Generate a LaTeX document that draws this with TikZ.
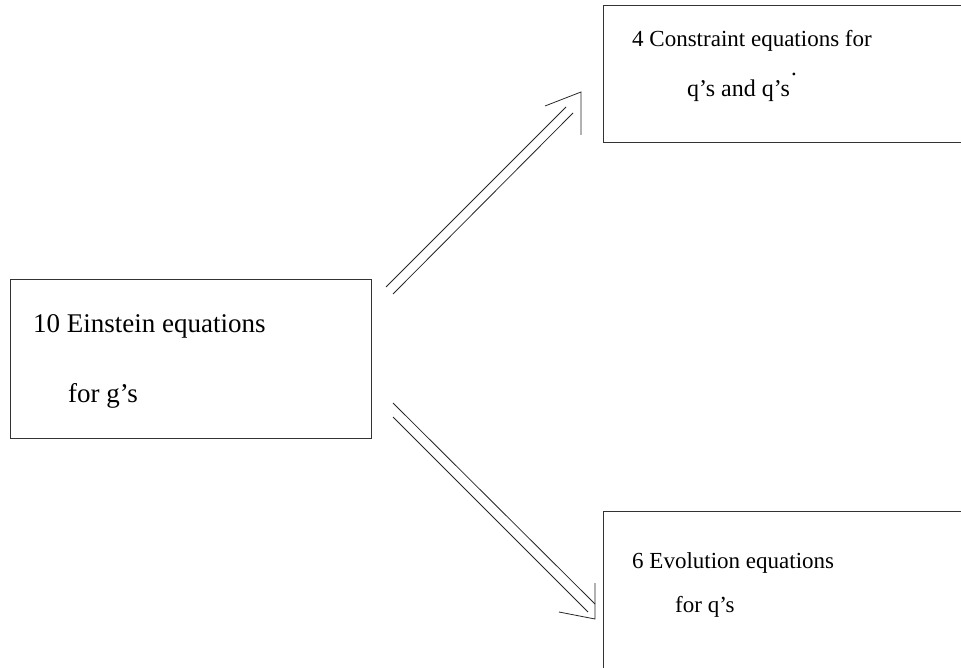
\documentclass[tikz,border=0pt]{standalone}
\usepackage{fontspec}
\setmainfont{Liberation Serif}
\begin{document}
\begin{tikzpicture}[x=1pt,y=-1pt,
  box/.style={draw=black!80,line width=0.9pt,rectangle,inner sep=0pt,anchor=north west},
  bigtxt/.style={anchor=base west,inner sep=0pt,font=\fontsize{27}{32}\selectfont},
  smalltxt/.style={anchor=base west,inner sep=0pt,font=\fontsize{23}{28}\selectfont},
  conn/.style={draw=black!85,line width=0.8pt}]
\useasboundingbox (0,0) rectangle (961,668);
% boxes
\node[box,minimum width=361pt,minimum height=159pt] (ein) at (10,279) {};
\node[box,minimum width=420pt,minimum height=137pt] (con) at (603,5) {};
\node[box,minimum width=420pt,minimum height=200pt] (evo) at (603,511) {};
% texts
\node[smalltxt] (t3) at (632,47) {4 Constraint equations for};
\node[smalltxt,font=\fontsize{24}{28}\selectfont] (t4) at (687,97) {q’s and q’s};
\node[smalltxt] (t4dot) at (791,76) {.};
\node[bigtxt] (t1) at (33,332) {10 Einstein equations};
\node[bigtxt] (t2) at (68,402) {for g’s};
\node[smalltxt] (t5) at (632,568) {6 Evolution equations};
\node[smalltxt] (t6) at (675,612) {for q’s};
% upper arrow
\coordinate (ua1) at (386,287); \coordinate (ub1) at (566,107);
\coordinate (ua2) at (393,294); \coordinate (ub2) at (573,113);
\coordinate (uh1) at (545,106); \coordinate (utip) at (581,92); \coordinate (uh2) at (581,135);
\draw[conn] (ua1) -- (ub1);
\draw[conn] (ua2) -- (ub2);
\draw[conn] (uh1) -- (utip) -- (uh2);
% lower arrow
\coordinate (la1) at (393,403); \coordinate (lb1) at (595,604);
\coordinate (la2) at (393,417); \coordinate (lb2) at (588,612);
\coordinate (lh1) at (595,583); \coordinate (ltip) at (595,619); \coordinate (lh2) at (559,612);
\draw[conn] (la1) -- (lb1);
\draw[conn] (la2) -- (lb2);
\draw[conn] (lh1) -- (ltip) -- (lh2);
\end{tikzpicture}
\end{document}
